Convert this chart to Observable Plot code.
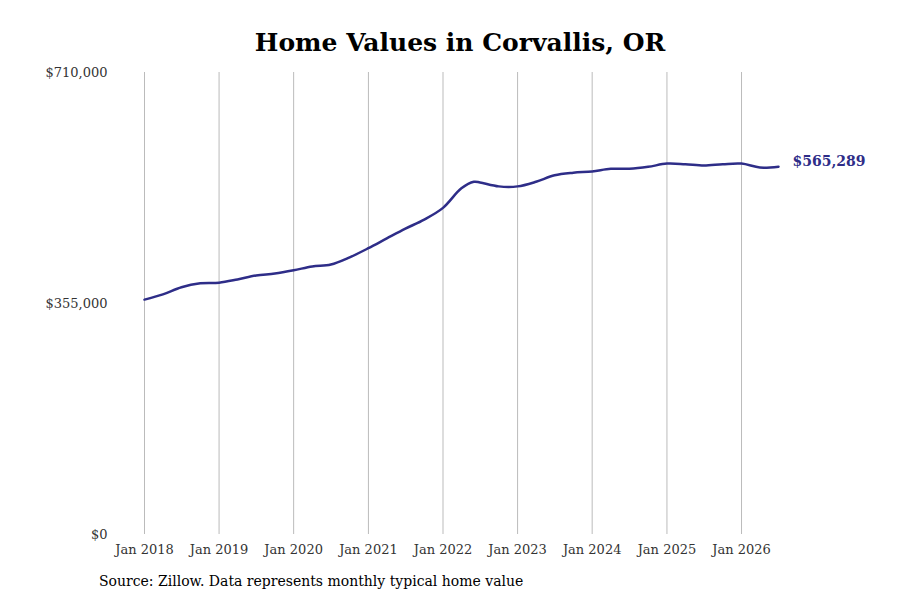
<!DOCTYPE html>
<html><head><meta charset="utf-8">
<script src="https://cdn.jsdelivr.net/npm/d3@7"></script>
<script src="https://cdn.jsdelivr.net/npm/@observablehq/plot@0.6"></script>
<style>
body{margin:0;background:#fff;font-family:"DejaVu Serif",serif;}
#t{height:60px;display:flex;align-items:flex-end;justify-content:center;font-family:"DejaVu Serif",serif;font-weight:bold;font-size:25px;padding-left:20px;box-sizing:border-box;padding-bottom:3px}
#c{font-size:14px;margin:0 0 0 99px;margin-top:3px}
</style></head><body>
<div id="t">Home Values in Corvallis, OR</div>
<div id="chart"></div>
<div id="c">Source: Zillow. Data represents monthly typical home value</div>
<script>
const dates = ["2018-01","2018-04","2018-07","2018-10","2019-01","2019-04","2019-07","2019-10","2020-01","2020-04","2020-07","2020-10","2021-01","2021-04","2021-07","2021-10","2022-01","2022-04","2022-06","2022-07","2022-10","2023-01","2023-04","2023-07","2023-10","2024-01","2024-04","2024-07","2024-10","2025-01","2025-04","2025-07","2025-10","2026-01","2026-04","2026-07"];
const values = [361000,369000,380000,386000,387000,392000,398000,401000,406000,412000,415000,426000,440000,455000,470000,484000,502000,532000,542000,541000,535000,535000,542000,552000,556000,558000,562000,562000,565000,570000,569000,567000,569000,570000,564000,565289];
const yTicks = [0,355000,710000];
const data = dates.map((d,i)=>{const [y,m]=d.split("-").map(Number);return {date:new Date(Date.UTC(y,m-1,1)),value:values[i]};});
const last = data[data.length-1];
const fmt = d3.format("$,");
const chart = Plot.plot({
  width:900,height:510,marginTop:12,marginBottom:36,marginLeft:144,marginRight:122,
  style:{fontFamily:"DejaVu Serif, serif",fontSize:"13px",color:"#333"},
  x:{type:"utc",domain:[new Date("2018-01-01"),new Date("2026-07-01")],ticks:d3.utcYear.every(1),tickFormat:d3.utcFormat("Jan %Y"),tickSize:0,tickPadding:10,label:null},
  y:{domain:[0,710000],ticks:yTicks,tickFormat:fmt,tickSize:0,tickPadding:37,label:null},
  marks:[
    Plot.ruleX(d3.utcYears(new Date("2018-01-01"),new Date("2026-02-01")),{stroke:"#bbb",strokeWidth:1}),
    Plot.line(data,{x:"date",y:"value",stroke:"#2e2d88",strokeWidth:2.5,curve:"catmull-rom"}),
    Plot.text([last],{x:"date",y:"value",text:d=>fmt(d.value),dx:14,dy:-5,textAnchor:"start",fill:"#2e2d88",fontWeight:"bold",fontSize:14})
  ]
});
document.getElementById("chart").append(chart);
</script></body></html>
